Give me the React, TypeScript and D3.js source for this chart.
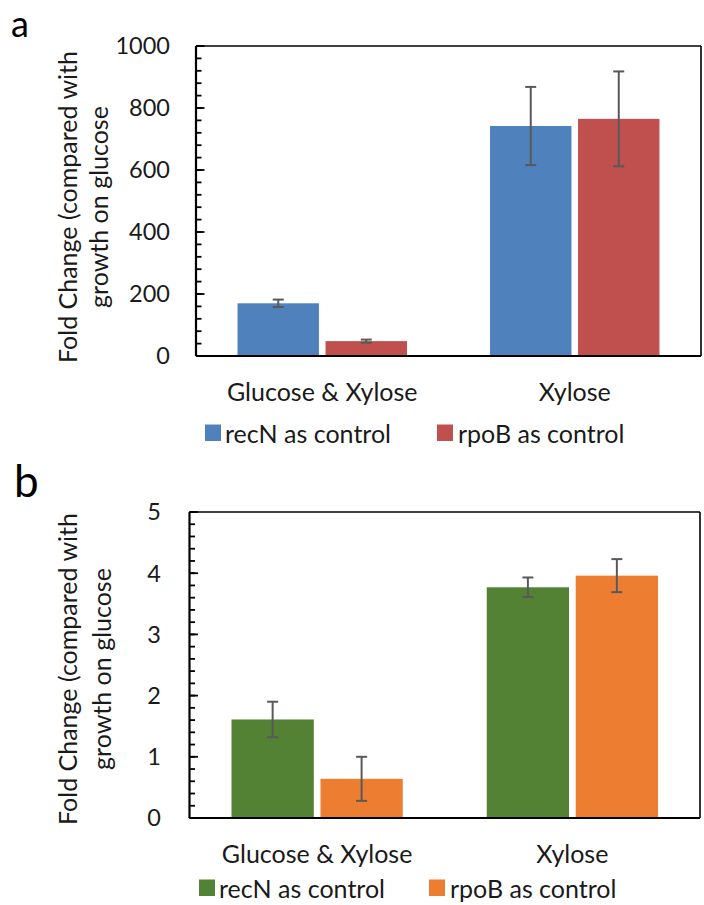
import React from "react";
import * as d3 from "d3";

const categories = ["Glucose & Xylose", "Xylose"];
const seriesNames = ["recN as control", "rpoB as control"];

const aRecN = [170, 742];
const aRecNErr = [12, 126];
const aRpoB = [48, 765];
const aRpoBErr = [5, 153];

const bRecN = [1.61, 3.77];
const bRecNErr = [0.29, 0.16];
const bRpoB = [0.64, 3.96];
const bRpoBErr = [0.36, 0.27];

const aMajorTicks = [0, 200, 400, 600, 800, 1000];
const aMinorTicks = d3.range(0, 1001, 40);
const bMajorTicks = [0, 1, 2, 3, 4, 5];
const bMinorTicks = d3.range(0, 26).map((i) => i / 5);

const FONT = "Lato, 'Open Sans', sans-serif";
const TXT = "#1a1a1a";

type PanelProps = {
  letter: string;
  letterX: number;
  letterY: number;
  letterSize: number;
  left: number;
  right: number;
  top: number;
  bottom: number;
  yMax: number;
  majorTicks: number[];
  minorTicks: number[];
  values: number[][];
  errors: number[][];
  colors: string[];
  tickLabelX: number;
  titleX1: number;
  titleX2: number;
  titleCY: number;
  legendY: number;
  legendSwatchX: number[];
  legendTextX: number[];
};

function Panel(p: PanelProps) {
  const x = d3.scaleBand<string>().domain(categories).range([p.left, p.right]).paddingInner(0).paddingOuter(0);
  const y = d3.scaleLinear().domain([0, p.yMax]).range([p.bottom, p.top]);
  const band = x.bandwidth();
  const groupW = band * 0.671;
  const inner = d3
    .scaleBand<string>()
    .domain(seriesNames)
    .range([(band - groupW) / 2, (band + groupW) / 2])
    .paddingInner(0.075)
    .paddingOuter(0);
  const bw = inner.bandwidth();
  const cap = 5.5;
  return (
    <g>
      <text x={p.letterX} y={p.letterY} fontSize={p.letterSize} fontFamily={FONT} fill="#000">
        {p.letter}
      </text>
      {seriesNames.map((s, si) =>
        categories.map((c, ci) => {
          const v = p.values[si][ci];
          const bx = (x(c) as number) + (inner(s) as number);
          return (
            <rect key={s + c} x={bx} y={y(v)} width={bw} height={y(0) - y(v)} fill={p.colors[si]} />
          );
        })
      )}
      {seriesNames.map((s, si) =>
        categories.map((c, ci) => {
          const v = p.values[si][ci];
          const e = p.errors[si][ci];
          const cx = (x(c) as number) + (inner(s) as number) + bw / 2;
          return (
            <g key={"e" + s + c} stroke="#595959" strokeWidth={2}>
              <line x1={cx} x2={cx} y1={y(v + e)} y2={y(v - e)} />
              <line x1={cx - cap} x2={cx + cap} y1={y(v + e)} y2={y(v + e)} />
              <line x1={cx - cap} x2={cx + cap} y1={y(v - e)} y2={y(v - e)} />
            </g>
          );
        })
      )}
      <line x1={p.left} x2={p.right} y1={p.top} y2={p.top} stroke="#000" strokeWidth={1.6} />
      <line x1={p.right} x2={p.right} y1={p.top} y2={p.bottom} stroke="#000" strokeWidth={1.6} />
      <line x1={p.left} x2={p.right} y1={p.bottom} y2={p.bottom} stroke="#000" strokeWidth={2.2} />
      <line x1={p.left} x2={p.left} y1={p.top} y2={p.bottom} stroke="#000" strokeWidth={2.2} />
      {p.minorTicks.map((t) => (
        <line key={"m" + t} x1={p.left} x2={p.left + 5.5} y1={y(t)} y2={y(t)} stroke="#000" strokeWidth={1.8} />
      ))}
      {p.majorTicks.map((t) => (
        <line key={"M" + t} x1={p.left} x2={p.left + 8.5} y1={y(t)} y2={y(t)} stroke="#000" strokeWidth={1.8} />
      ))}
      {p.majorTicks.map((t) => (
        <text
          key={"l" + t}
          x={p.tickLabelX}
          y={y(t)}
          dy="0.36em"
          textAnchor="end"
          fontSize={23.5}
          fontFamily={FONT}
          fill={TXT}
        >
          {t}
        </text>
      ))}
      <text
        transform={`translate(${p.titleX1},${p.titleCY}) rotate(-90)`}
        textAnchor="middle"
        fontSize={25}
        fontFamily={FONT}
        fill={TXT}
      >
        Fold Change (compared with
      </text>
      <text
        transform={`translate(${p.titleX2},${p.titleCY}) rotate(-90)`}
        textAnchor="middle"
        fontSize={25}
        fontFamily={FONT}
        fill={TXT}
      >
        growth on glucose
      </text>
      {categories.map((c) => (
        <text
          key={"x" + c}
          x={(x(c) as number) + band / 2}
          y={p.bottom + 45}
          textAnchor="middle"
          fontSize={25}
          fontFamily={FONT}
          fill={TXT}
        >
          {c}
        </text>
      ))}
      {seriesNames.map((s, si) => (
        <g key={"lg" + s}>
          <rect x={p.legendSwatchX[si]} y={p.legendY - 18.5} width={16} height={16.5} fill={p.colors[si]} />
          <text x={p.legendTextX[si]} y={p.legendY} fontSize={25} fontFamily={FONT} fill={TXT}>
            {s}
          </text>
        </g>
      ))}
    </g>
  );
}

export default function App() {
  return (
    <svg
      width={704}
      height={905}
      style={{ position: "absolute", left: 0, top: 0, background: "#fff" }}
      xmlns="http://www.w3.org/2000/svg"
    >
      <rect x={0} y={0} width={704} height={905} fill="#fff" />
      <Panel
        letter="a"
        letterX={11}
        letterY={37}
        letterSize={36}
        left={196}
        right={701}
        top={46}
        bottom={356}
        yMax={1000}
        majorTicks={aMajorTicks}
        minorTicks={aMinorTicks}
        values={[aRecN, aRpoB]}
        errors={[aRecNErr, aRpoBErr]}
        colors={["#4F81BD", "#C0504D"]}
        tickLabelX={170}
        titleX1={77}
        titleX2={108}
        titleCY={207}
        legendY={443}
        legendSwatchX={[205, 437]}
        legendTextX={[225, 458]}
      />
      <Panel
        letter="b"
        letterX={14}
        letterY={497}
        letterSize={44}
        left={189.5}
        right={700}
        top={512}
        bottom={818}
        yMax={5}
        majorTicks={bMajorTicks}
        minorTicks={bMinorTicks}
        values={[bRecN, bRpoB]}
        errors={[bRecNErr, bRpoBErr]}
        colors={["#548235", "#ED7D31"]}
        tickLabelX={161}
        titleX1={77}
        titleX2={111}
        titleCY={669}
        legendY={898}
        legendSwatchX={[199, 429]}
        legendTextX={[219, 450]}
      />
    </svg>
  );
}
